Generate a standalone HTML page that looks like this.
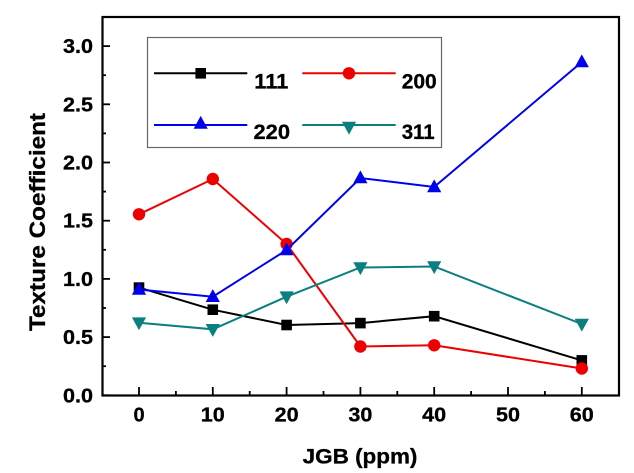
<!DOCTYPE html>
<html><head><meta charset="utf-8"><style>
html,body{margin:0;padding:0;background:#fff;}
svg{display:block;}
text{font-family:"Liberation Sans",Arial,sans-serif;font-weight:bold;fill:#000;stroke:#000;stroke-width:0.3;}
</style></head><body>
<svg width="634" height="473" viewBox="0 0 634 473" xmlns="http://www.w3.org/2000/svg">
<rect x="0" y="0" width="634" height="473" fill="#fff"/>
<defs>
<g id="sq"><rect x="-5.3" y="-5.3" width="10.6" height="10.6" fill="#000"/></g>
<g id="ci"><circle r="6.2" fill="#ee0000"/></g>
<g id="tu"><polygon points="0,-7.6 7.1,5.3 -7.1,5.3" fill="#0000ee"/></g>
<g id="td"><polygon points="0,7.6 7.1,-5.3 -7.1,-5.3" fill="#0a7f7f"/></g>
</defs>
<!-- ticks -->
<g stroke="#000" stroke-width="1.8">
<line x1="102" y1="395.3" x2="110" y2="395.3"/>
<line x1="102" y1="337.1" x2="110" y2="337.1"/>
<line x1="102" y1="278.9" x2="110" y2="278.9"/>
<line x1="102" y1="220.7" x2="110" y2="220.7"/>
<line x1="102" y1="162.5" x2="110" y2="162.5"/>
<line x1="102" y1="104.3" x2="110" y2="104.3"/>
<line x1="102" y1="46.1" x2="110" y2="46.1"/>
<line x1="102" y1="366.2" x2="106" y2="366.2"/>
<line x1="102" y1="308" x2="106" y2="308"/>
<line x1="102" y1="249.8" x2="106" y2="249.8"/>
<line x1="102" y1="191.6" x2="106" y2="191.6"/>
<line x1="102" y1="133.4" x2="106" y2="133.4"/>
<line x1="102" y1="75.2" x2="106" y2="75.2"/>
<line x1="139" y1="395" x2="139" y2="387"/>
<line x1="212.8" y1="395" x2="212.8" y2="387"/>
<line x1="286.6" y1="395" x2="286.6" y2="387"/>
<line x1="360.4" y1="395" x2="360.4" y2="387"/>
<line x1="434.2" y1="395" x2="434.2" y2="387"/>
<line x1="508" y1="395" x2="508" y2="387"/>
<line x1="581.8" y1="395" x2="581.8" y2="387"/>
<line x1="175.9" y1="395" x2="175.9" y2="391"/>
<line x1="249.7" y1="395" x2="249.7" y2="391"/>
<line x1="323.5" y1="395" x2="323.5" y2="391"/>
<line x1="397.3" y1="395" x2="397.3" y2="391"/>
<line x1="471.1" y1="395" x2="471.1" y2="391"/>
<line x1="544.9" y1="395" x2="544.9" y2="391"/>
</g>
<!-- frame -->
<rect x="102.5" y="17" width="516.5" height="378.5" fill="none" stroke="#000" stroke-width="2.2"/>

<!-- legend -->
<rect x="147.5" y="37.5" width="294" height="110" fill="#fff" stroke="#666" stroke-width="1.2"/>
<line x1="154" y1="73.3" x2="247.3" y2="73.3" stroke="#000" stroke-width="2"/>
<use href="#sq" x="200.7" y="73.3"/>
<text x="254.3" y="88.3" font-size="21" textLength="34" lengthAdjust="spacingAndGlyphs">111</text>
<line x1="302.3" y1="73.3" x2="395.7" y2="73.3" stroke="#ee0000" stroke-width="2"/>
<use href="#ci" x="349" y="73.3"/>
<text x="401.7" y="88.3" font-size="21" textLength="35" lengthAdjust="spacingAndGlyphs">200</text>
<line x1="154" y1="125" x2="247.3" y2="125" stroke="#0000ee" stroke-width="2"/>
<use href="#tu" x="200.7" y="123.5"/>
<text x="253.5" y="139" font-size="21" textLength="36.5" lengthAdjust="spacingAndGlyphs">220</text>
<line x1="302.3" y1="125" x2="395.7" y2="125" stroke="#0a7f7f" stroke-width="2"/>
<use href="#td" x="349" y="127"/>
<text x="401.7" y="139" font-size="21" textLength="33" lengthAdjust="spacingAndGlyphs">311</text>

<!-- series 111 -->
<polyline fill="none" stroke="#000" stroke-width="2" points="139,287.6 212.8,309.7 286.6,325 360.4,323.1 434.2,316.2 581.8,360.4"/>
<use href="#sq" x="139" y="287.6"/><use href="#sq" x="212.8" y="309.7"/><use href="#sq" x="286.6" y="325"/><use href="#sq" x="360.4" y="323.1"/><use href="#sq" x="434.2" y="316.2"/><use href="#sq" x="581.8" y="360.4"/>
<!-- series 200 -->
<polyline fill="none" stroke="#ee0000" stroke-width="2" points="139,214.3 212.8,179 286.6,244 360.4,346.5 434.2,345.3 581.8,368.5"/>
<use href="#ci" x="139" y="214.3"/><use href="#ci" x="212.8" y="179"/><use href="#ci" x="286.6" y="244"/><use href="#ci" x="360.4" y="346.5"/><use href="#ci" x="434.2" y="345.3"/><use href="#ci" x="581.8" y="368.5"/>
<!-- series 220 -->
<polyline fill="none" stroke="#0000ee" stroke-width="2" points="139,289.5 212.8,296.7 286.6,250 360.4,178 434.2,187 581.8,62"/>
<use href="#tu" x="139" y="289.5"/><use href="#tu" x="212.8" y="296.7"/><use href="#tu" x="286.6" y="250"/><use href="#tu" x="360.4" y="178"/><use href="#tu" x="434.2" y="187"/><use href="#tu" x="581.8" y="62"/>
<!-- series 311 -->
<polyline fill="none" stroke="#0a7f7f" stroke-width="2" points="139,322.7 212.8,329.3 286.6,296.7 360.4,267.5 434.2,266.5 581.8,324"/>
<use href="#td" x="139" y="322.7"/><use href="#td" x="212.8" y="329.3"/><use href="#td" x="286.6" y="296.7"/><use href="#td" x="360.4" y="267.5"/><use href="#td" x="434.2" y="266.5"/><use href="#td" x="581.8" y="324"/>

<!-- y tick labels -->
<g font-size="20" text-anchor="end">
<text x="93" y="402.3" textLength="30" lengthAdjust="spacingAndGlyphs">0.0</text>
<text x="93" y="344.1" textLength="30" lengthAdjust="spacingAndGlyphs">0.5</text>
<text x="93" y="285.9" textLength="30" lengthAdjust="spacingAndGlyphs">1.0</text>
<text x="93" y="227.7" textLength="30" lengthAdjust="spacingAndGlyphs">1.5</text>
<text x="93" y="169.5" textLength="30" lengthAdjust="spacingAndGlyphs">2.0</text>
<text x="93" y="111.3" textLength="30" lengthAdjust="spacingAndGlyphs">2.5</text>
<text x="93" y="53.1" textLength="30" lengthAdjust="spacingAndGlyphs">3.0</text>
</g>
<!-- x tick labels -->
<g font-size="20" text-anchor="middle">
<text x="139" y="421.7">0</text>
<text x="212.8" y="421.7" textLength="24" lengthAdjust="spacingAndGlyphs">10</text>
<text x="286.6" y="421.7" textLength="24" lengthAdjust="spacingAndGlyphs">20</text>
<text x="360.4" y="421.7" textLength="24" lengthAdjust="spacingAndGlyphs">30</text>
<text x="434.2" y="421.7" textLength="24" lengthAdjust="spacingAndGlyphs">40</text>
<text x="508" y="421.7" textLength="24" lengthAdjust="spacingAndGlyphs">50</text>
<text x="581.8" y="421.7" textLength="24" lengthAdjust="spacingAndGlyphs">60</text>
</g>
<!-- axis titles -->
<text x="302.7" y="463.3" font-size="21" textLength="114.7" lengthAdjust="spacingAndGlyphs">JGB (ppm)</text>
<text transform="translate(45,331) rotate(-90)" x="0" y="0" font-size="22" textLength="218" lengthAdjust="spacingAndGlyphs">Texture Coefficient</text>
</svg>
</body></html>
